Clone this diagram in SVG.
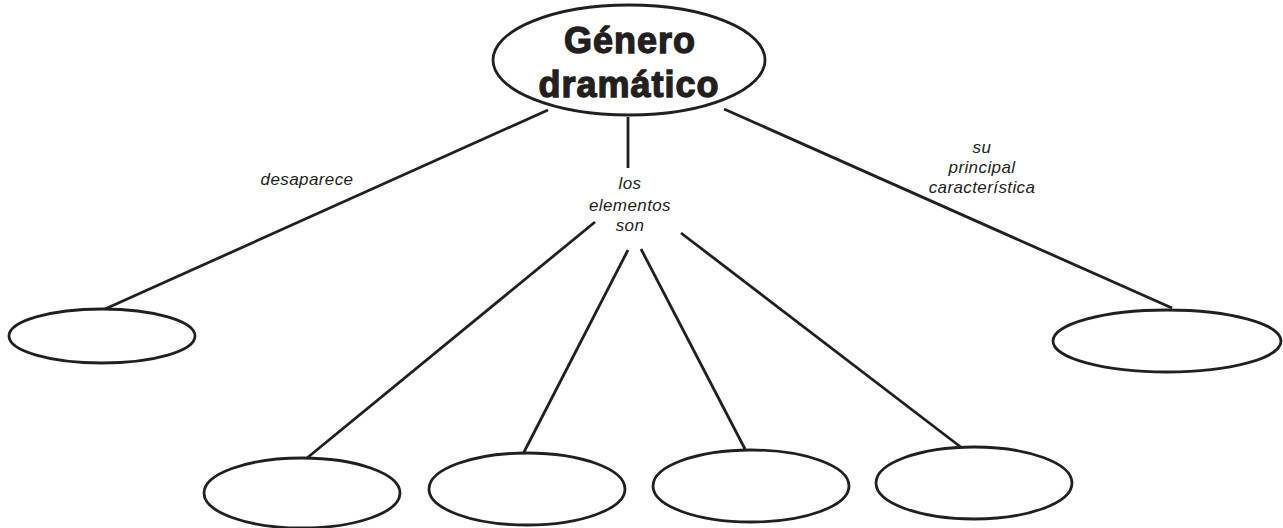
<svg xmlns="http://www.w3.org/2000/svg" width="1283" height="528" viewBox="0 0 1283 528">
<style>
.n{fill:#fff;stroke:#231f20;stroke-width:2.8}
.c line{stroke:#231f20;stroke-width:2.8}
.t{font-family:"Liberation Sans",Arial,sans-serif;font-weight:bold;font-size:36px;fill:#231f20;stroke:#231f20;stroke-width:1.3;text-anchor:middle}
.l{font-family:"Liberation Sans",Arial,sans-serif;font-style:italic;font-size:17px;fill:#231f20;text-anchor:middle;letter-spacing:0.4px}
</style>
<rect width="1283" height="528" fill="#fff"/>
<g class="c" id="connectors">
<line x1="548" y1="110" x2="105" y2="309"/>
<line x1="628" y1="117" x2="628" y2="168"/>
<line x1="724" y1="109" x2="1172" y2="308"/>
<line x1="595" y1="222" x2="307" y2="458"/>
<line x1="628" y1="250" x2="523" y2="454"/>
<line x1="641" y1="249" x2="746" y2="451"/>
<line x1="681" y1="233" x2="962" y2="448"/>
</g>
<g id="n0"><ellipse class="n" cx="629" cy="60" rx="136" ry="55"/><text class="t" x="630" y="53" letter-spacing="1">Género</text><text class="t" x="629" y="97" letter-spacing="1">dramático</text></g>
<g id="n1"><ellipse class="n" cx="102" cy="336" rx="93" ry="27"/></g>
<g id="n2"><ellipse class="n" cx="1167" cy="341" rx="114" ry="31"/></g>
<g id="n3"><ellipse class="n" cx="302" cy="493" rx="98" ry="35"/></g>
<g id="n4"><ellipse class="n" cx="527" cy="489" rx="98" ry="36"/></g>
<g id="n5"><ellipse class="n" cx="751" cy="486" rx="98" ry="36"/></g>
<g id="n6"><ellipse class="n" cx="974" cy="483" rx="98" ry="36"/></g>
<g id="labels">
<text class="l" x="307" y="185">desaparece</text>
<text class="l" x="630" y="189">los</text>
<text class="l" x="630" y="211">elementos</text>
<text class="l" x="630" y="231">son</text>
<text class="l" x="982" y="153">su</text>
<text class="l" x="982" y="173">principal</text>
<text class="l" x="982" y="193">característica</text>
</g>
</svg>
